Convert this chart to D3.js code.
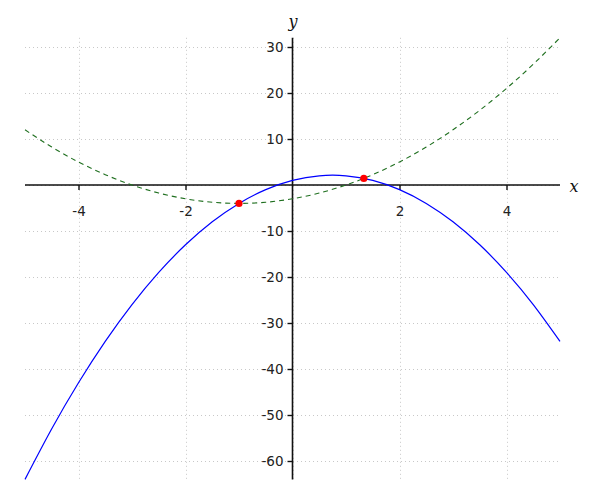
<!DOCTYPE html>
<html><head><meta charset="utf-8">
<script src="https://cdn.jsdelivr.net/npm/d3@7"></script>
<style>body{margin:0;background:#fff}</style>
</head><body>
<svg id="c" width="600" height="500"></svg>
<script>
const xs = [-5,-4.5,-4,-3.5,-3,-2.5,-2,-1.5,-1,-0.5,0,0.5,1,1.5,2,2.5,3,3.5,4,4.5,5];
const blueY = [-64,-53,-43,-34,-26,-19,-13,-8,-4,-1,1,2,2,1,-1,-4,-8,-13,-19,-26,-34];
const greenY = [12,8.25,5,2.25,0,-1.75,-3,-3.75,-4,-3.75,-3,-1.75,0,2.25,5,8.25,12,16.25,21,26.25,32];
const pointsX = [-1, 1.333];
const pointsY = [-4, 1.44];
const xTicks = [-4,-2,2,4];
const yTicks = [-60,-50,-40,-30,-20,-10,10,20,30];
const gridX = [-4,-2,0,2,4];
const gridY = [-60,-50,-40,-30,-20,-10,0,10,20,30];

const svg = d3.select("#c");
const x = d3.scaleLinear().domain([-5,5]).range([25,560]);
const y = d3.scaleLinear().domain([30,-60]).range([47,461]);
const yTop = y(32), yBot = y(-64);
const fmt = d => String(d);

const grid = svg.append("g").attr("stroke","#c8c8c8").attr("stroke-width",1).attr("stroke-dasharray","1,3");
grid.selectAll(".gx").data(gridX).join("line")
  .attr("x1",d=>Math.round(x(d))+0.5).attr("x2",d=>Math.round(x(d))+0.5)
  .attr("y1",yTop).attr("y2",yBot);
grid.selectAll(".gy").data(gridY).join("line")
  .attr("y1",d=>Math.round(y(d))+0.5).attr("y2",d=>Math.round(y(d))+0.5)
  .attr("x1",25).attr("x2",560);

// axes
const x0 = x(0), y0 = y(0);
const xAxis = svg.append("g").attr("transform",`translate(0,${y0})`)
  .call(d3.axisBottom(x).tickValues(xTicks).tickSize(5).tickPadding(16).tickFormat(fmt));
xAxis.select(".domain").attr("d",`M25,0H560`);
const yAxis = svg.append("g").attr("transform",`translate(${x0},0)`)
  .call(d3.axisLeft(y).tickValues(yTicks).tickSize(5).tickPadding(4).tickFormat(fmt));
yAxis.select(".domain").attr("d",`M0,${yTop}V${yBot}`);
svg.selectAll(".domain").attr("stroke","#111").attr("stroke-width",1.6);
svg.selectAll(".tick line").attr("stroke","#111").attr("stroke-width",1.4);
svg.selectAll(".tick text").attr("font-family","DejaVu Sans").attr("font-size",13.5).attr("fill","#222");

// curves
const line = d3.line().x((d,i)=>x(xs[i])).y(d=>y(d)).curve(d3.curveNatural);
svg.append("path").datum(greenY).attr("d",line).attr("fill","none")
  .attr("stroke","#1f6f1f").attr("stroke-width",1.1).attr("stroke-dasharray","5,4");
svg.append("path").datum(blueY).attr("d",line).attr("fill","none")
  .attr("stroke","#0000ff").attr("stroke-width",1.2);

svg.selectAll(".pt").data(pointsX).join("circle")
  .attr("cx",d=>x(d)).attr("cy",(d,i)=>y(pointsY[i])).attr("r",3.6).attr("fill","#ff0000");

// axis labels
svg.append("text").attr("x",574).attr("y",192).attr("text-anchor","middle")
  .attr("font-family","DejaVu Serif").attr("font-style","italic").attr("font-size",16).attr("fill","#111").text("x");
svg.append("text").attr("x",293).attr("y",27).attr("text-anchor","middle")
  .attr("font-family","DejaVu Serif").attr("font-style","italic").attr("font-size",16).attr("fill","#111").text("y");
</script>
</body></html>
